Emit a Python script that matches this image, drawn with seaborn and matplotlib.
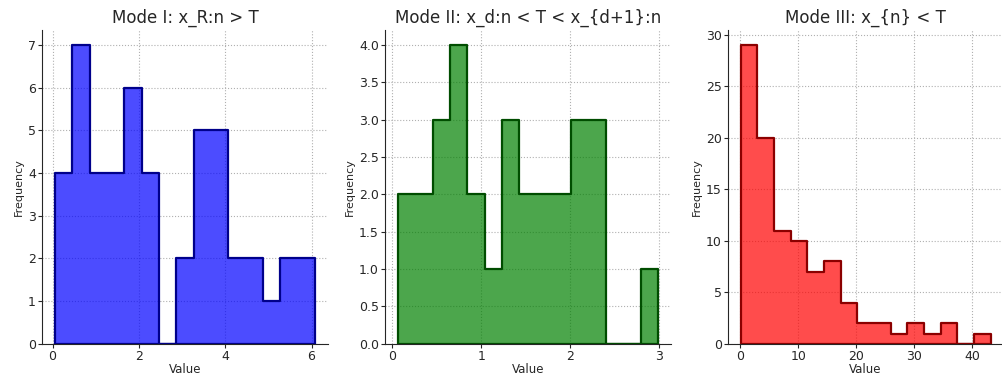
import numpy as np
import pandas as pd
import matplotlib
matplotlib.use("Agg")
import matplotlib.pyplot as plt
from matplotlib.ticker import MultipleLocator
import seaborn as sns

# Histogram counts (15 equal-width bins per panel)
titles = ["Mode I: x_R:n > T", "Mode II: x_d:n < T < x_{d+1}:n", "Mode III: x_{n} < T"]
ranges = [(0.06, 6.08), (0.064, 2.99), (0.1, 43.1)]
counts_1 = [4, 7, 4, 4, 6, 4, 0, 2, 5, 5, 2, 2, 1, 2, 2]
counts_2 = [2, 2, 3, 4, 2, 1, 3, 2, 2, 2, 3, 3, 0, 0, 1]
counts_3 = [29, 20, 11, 10, 7, 8, 4, 2, 2, 1, 2, 1, 2, 0, 1]
x_steps = [2, 1, 10]
colors = ["blue", "green", "red"]
edge_colors = ["#00008b", "#004d00", "#8b0000"]

sns.set_style("ticks")
plt.rcParams['font.family'] = ['DejaVu Sans']

fig = plt.figure(figsize=(10.03, 3.77), dpi=100)
positions = [
    [0.042, 0.088, 0.285, 0.832],
    [0.384, 0.088, 0.285, 0.832],
    [0.726, 0.088, 0.274, 0.832],
]

for i, counts in enumerate([counts_1, counts_2, counts_3]):
    ax = fig.add_axes(positions[i])
    lo, hi = ranges[i]
    width = (hi - lo) / len(counts)
    centers = lo + width * (np.arange(len(counts)) + 0.5)
    df = pd.DataFrame({"value": centers, "count": counts})
    sns.histplot(data=df, x="value", weights="count", bins=len(counts),
                 binrange=(lo, hi), element="step",
                 fill=True, color=colors[i], alpha=0.7, edgecolor=edge_colors[i],
                 linewidth=1.6, ax=ax)
    ax.set_title(titles[i], fontsize=12, pad=5)
    ax.set_xlabel("Value", fontsize=8.5, labelpad=0)
    ax.set_ylabel("Frequency", fontsize=8, labelpad=3)
    ax.xaxis.set_major_locator(MultipleLocator(x_steps[i]))
    ax.tick_params(labelsize=9, length=3, pad=1.5)
    ax.grid(True, linestyle=":", color="#b0b0b0", linewidth=0.8)
    ax.set_axisbelow(True)
    sns.despine(ax=ax)
    ax.margins(x=0.05)
    ax.set_ylim(0, max(counts) * 1.05)

fig.savefig("out.png", dpi=100)
